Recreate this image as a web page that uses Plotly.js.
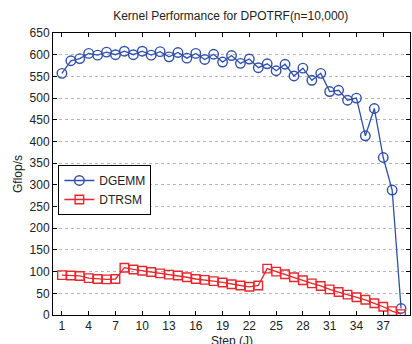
<!DOCTYPE html>
<html>
<head>
<meta charset="utf-8">
<script src="https://cdn.plot.ly/plotly-3.0.1.min.js"></script>
<style>
  html, body { margin: 0; padding: 0; background: #fff; }
  #chart { width: 412px; height: 344px; }
</style>
</head>
<body>
<div id="chart"></div>
<script>
// Step index J
const steps = [];
for (let j = 1; j <= 39; j++) steps.push(j);

// Gflop/s per step for each kernel
const dgemm = [557, 586, 591, 603, 599, 606, 600, 608, 600, 608,
               599, 607, 595, 605, 592, 603, 589, 601, 583, 598,
               580, 590, 570, 579, 563, 578, 551, 569, 541, 557,
               515, 518, 495, 500, 413, 476, 363, 288, 15];
const dtrsm = [92, 91, 90, 85, 83, 82, 83, 109, 105, 102,
               99, 96, 93, 91, 87, 83, 81, 78, 75, 71,
               68, 65, 68, 107, 100, 94, 87, 80, 73, 67,
               59, 53, 47, 41, 35, 27, 19, 9, 2];

const xTicks = [1, 4, 7, 10, 13, 16, 19, 22, 25, 28, 31, 34, 37];

const blue = '#3050a8';
const red = '#e8262d';

const traces = [
  {
    x: steps, y: dgemm, name: 'DGEMM', type: 'scatter', mode: 'lines+markers',
    line: { color: blue, width: 1.3 },
    marker: { symbol: 'circle-open', size: 9.5, color: blue, line: { width: 1.4, color: blue } }
  },
  {
    x: steps, y: dtrsm, name: 'DTRSM', type: 'scatter', mode: 'lines+markers',
    line: { color: red, width: 1.3 },
    marker: { symbol: 'square-open', size: 8.5, color: red, line: { width: 1.4, color: red } }
  }
];

const font = { family: 'Liberation Sans, Arial, Helvetica, sans-serif', size: 12, color: '#222' };

const layout = {
  width: 412, height: 344,
  margin: { l: 53, r: 2, t: 33, b: 29, pad: 0 },
  paper_bgcolor: '#fff', plot_bgcolor: '#fff',
  font: font,
  showlegend: true,
  title: {
    text: 'Kernel Performance for DPOTRF(n=10,000)',
    font: { family: font.family, size: 12, color: '#222' },
    x: 0.56, xanchor: 'center', y: 0.955, yanchor: 'middle'
  },
  xaxis: {
    range: [0, 40], tickvals: xTicks, ticktext: xTicks.map(String),
    ticks: 'inside', ticklen: 4, tickcolor: '#000', mirror: 'allticks',
    showline: true, linecolor: '#000', linewidth: 1,
    showgrid: false, zeroline: false,
    tickfont: { size: 12, color: '#222' }
  },
  yaxis: {
    range: [0, 650], dtick: 50, tick0: 0,
    ticks: 'inside', ticklen: 4, tickcolor: '#000', mirror: 'allticks',
    showline: true, linecolor: '#000', linewidth: 1,
    showgrid: true, gridcolor: '#b4b4b4', griddash: 'dot', gridwidth: 1,
    zeroline: false,
    tickfont: { size: 12, color: '#222' },
    title: { text: 'Gflop/s', font: { size: 12, color: '#222' }, standoff: 4 }
  },
  // x-axis caption sits just under the tick labels, at the bottom edge
  annotations: [{
    text: 'Step (J)', xref: 'paper', yref: 'paper',
    x: 0.5, y: -0.092, xanchor: 'center', yanchor: 'middle',
    borderpad: 0, showarrow: false, font: { size: 12, color: '#222' }
  }],
  legend: {
    x: 0.015, y: 0.532, xanchor: 'left', yanchor: 'top',
    bgcolor: '#fff', bordercolor: '#000', borderwidth: 1,
    font: { size: 12, color: '#222' },
    itemwidth: 30, tracegroupgap: 0
  }
};

Plotly.newPlot('chart', traces, layout, { staticPlot: true, displayModeBar: false });
</script>
</body>
</html>
